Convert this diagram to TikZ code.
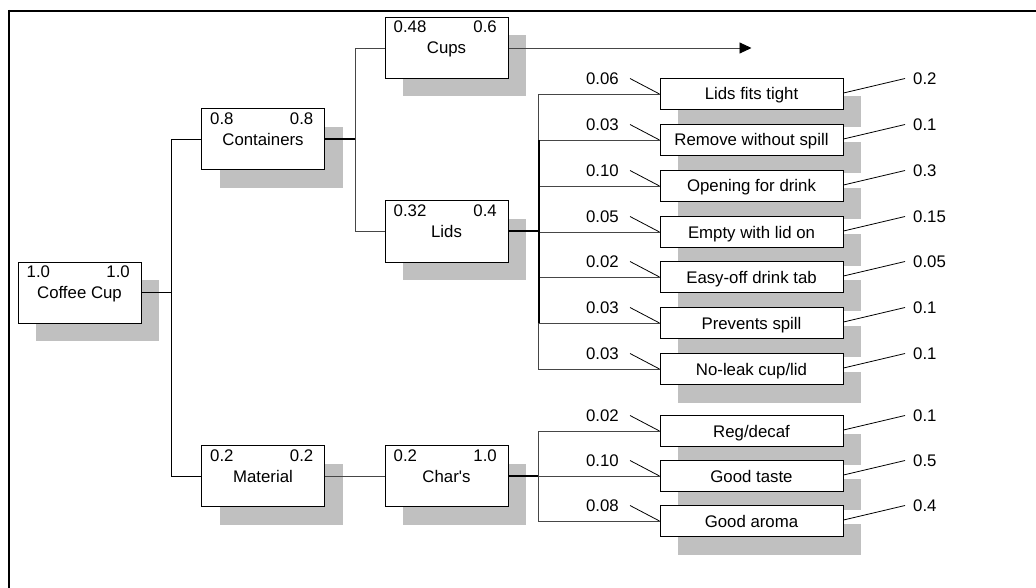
\documentclass[tikz,border=0pt]{standalone}
\usepackage{fontspec}
\setmainfont{Liberation Sans}
\usetikzlibrary{shadows,arrows.meta}
\definecolor{shade}{RGB}{192,192,192}
\definecolor{wirecol}{RGB}{70,70,70}

% weights in the two top corners of a main box
\newcommand\cornernums[3]{%
  \node[num,anchor=west] (#1-a) at ([xshift=9pt,yshift=-10pt]#1.north west) {#2};
  \node[num,anchor=east] (#1-b) at ([xshift=-11.5pt,yshift=-10pt]#1.north east) {#3};
}
% a leaf requirement: name, y, text, left weight, right weight
\newcommand\leafrow[5]{%
  \node[leafbox] (#1) at (751.5,#2) {#3};
  \node[num,anchor=east] (#1-w) at (619,#2-15.5) {#4};
  \node[num,anchor=west] (#1-v) at (913,#2-15.5) {#5};
  \draw[tick] ([xshift=11pt]#1-w.east) -- (#1.west);
  \draw[tick] ([yshift=1pt]#1.east) -- ([xshift=-8pt]#1-v.west);
}

\begin{document}
\begin{tikzpicture}[x=1pt,y=-1pt,
  font=\fontsize{16.8}{20}\selectfont,
  boxbase/.style={draw=black, line width=1pt, fill=white, inner sep=0pt,
    text height=12pt, text depth=0pt,
    drop shadow={shadow xshift=18pt, shadow yshift=-18pt, opacity=1, fill=shade}},
  mainbox/.style={boxbase, minimum width=123pt, minimum height=61pt},
  leafbox/.style={boxbase, minimum width=183pt, minimum height=31pt},
  num/.style={inner sep=0pt, text height=12pt, text depth=0pt},
  wire/.style={draw=wirecol, line width=0.9pt},
  heavy/.style={draw=black, line width=2pt},
  tick/.style={draw=black, line width=0.8pt},
  frame/.style={draw=black, line width=2.2pt}
]
\useasboundingbox (0,0) rectangle (1036,588);

% frame
\draw[frame] (8,11) -- (1036,11);
\draw[frame] (9,10) -- (9,588);

% main boxes
\node[mainbox] (cc) at (79.5,292.5) {Coffee Cup};
\cornernums{cc}{1.0}{1.0}
\node[mainbox] (cont) at (263,139.5) {Containers};
\cornernums{cont}{0.8}{0.8}
\node[mainbox] (cups) at (446.5,48) {Cups};
\cornernums{cups}{0.48}{0.6}
\node[mainbox] (lids) at (446.5,231.5) {Lids};
\cornernums{lids}{0.32}{0.4}
\node[mainbox] (mat) at (263,476) {Material};
\cornernums{mat}{0.2}{0.2}
\node[mainbox] (chars) at (446.5,476) {Char\textquotesingle s};
\cornernums{chars}{0.2}{1.0}

% lid requirements
\leafrow{l1}{94}{Lids fits tight}{0.06}{0.2}
\leafrow{l2}{140}{Remove without spill}{0.03}{0.1}
\leafrow{l3}{186}{Opening for drink}{0.10}{0.3}
\leafrow{l4}{232}{Empty with lid on}{0.05}{0.15}
\leafrow{l5}{277}{Easy-off drink tab}{0.02}{0.05}
\leafrow{l6}{323}{Prevents spill}{0.03}{0.1}
\leafrow{l7}{369}{No-leak cup/lid}{0.03}{0.1}

% material characteristics
\leafrow{r1}{431}{Reg/decaf}{0.02}{0.1}
\leafrow{r2}{476}{Good taste}{0.10}{0.5}
\leafrow{r3}{521}{Good aroma}{0.08}{0.4}

% tree connectors
\draw[wire,draw=black] (cc.east) -- ++(30,0) coordinate (j0);
\draw[wire,draw=black] (j0) |- (cont.west);
\draw[wire,draw=black] (j0) |- (mat.west);

\draw[heavy] (cont.east) -- ++(30,0) coordinate (j1);
\draw[wire] (j1) |- (cups.west);
\draw[wire] (j1) |- (lids.west);

\coordinate (cupsend) at (751.5,48);
\draw[wire,-{Triangle[length=12pt,width=11pt,black]}] (cups.east) -- (cupsend);

\draw[heavy] (lids.east) -- ++(30,0) coordinate (j2);
\foreach \n in {l1,l2,l3,l4,l5,l6,l7}{
  \draw[wire] (j2) |- (\n.west);
}
\draw[heavy] (j2 |- l2.west) -- (j2 |- l6.west);

\draw[wire] (mat.east) -- (chars.west);

\draw[heavy] (chars.east) -- ++(30,0) coordinate (j3);
\foreach \n in {r1,r2,r3}{
  \draw[wire] (j3) |- (\n.west);
}
\end{tikzpicture}
\end{document}
